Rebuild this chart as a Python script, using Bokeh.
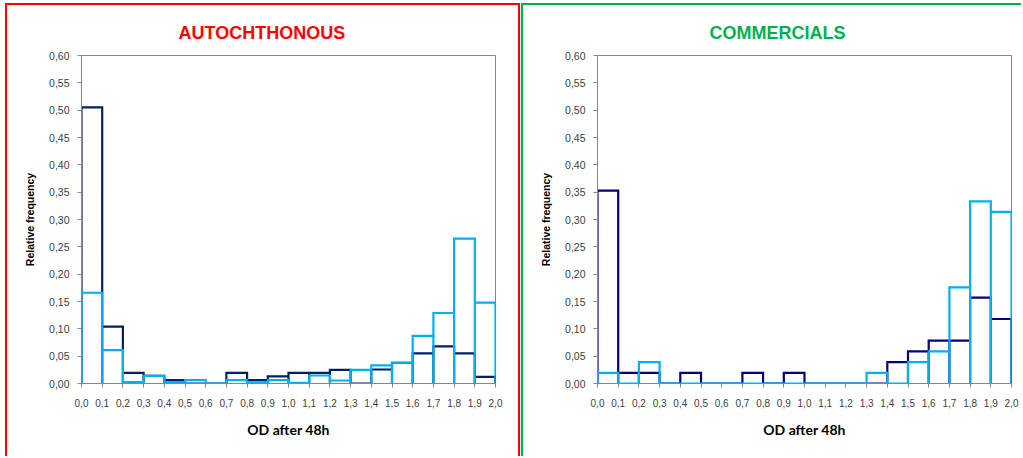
from bokeh.plotting import figure
from bokeh.layouts import row
from bokeh.models import Range1d, FixedTicker, Title
from bokeh.embed import file_html
from bokeh.resources import INLINE

# ---- data ----
od_edges = [0.0, 0.1, 0.2, 0.3, 0.4, 0.5, 0.6, 0.7, 0.8, 0.9, 1.0,
            1.1, 1.2, 1.3, 1.4, 1.5, 1.6, 1.7, 1.8, 1.9, 2.0]
y_ticks = [0.0, 0.05, 0.10, 0.15, 0.20, 0.25, 0.30, 0.35, 0.40, 0.45, 0.50, 0.55, 0.60]

auto_dark = [0.505, 0.104, 0.0195, 0.014, 0.006, 0.0, 0.0, 0.0195, 0.006, 0.013,
             0.0195, 0.0195, 0.025, 0.0, 0.0256, 0.038, 0.055, 0.068, 0.055, 0.012]
auto_light = [0.166, 0.061, 0.0024, 0.014, 0.0024, 0.006, 0.0, 0.006, 0.002, 0.006,
              0.001, 0.0146, 0.0055, 0.025, 0.033, 0.038, 0.087, 0.129, 0.265, 0.148]

comm_dark = [0.353, 0.0196, 0.0196, 0.0, 0.0196, 0.0, 0.0, 0.0196, 0.0, 0.0196,
             0.0, 0.0, 0.0, 0.0, 0.039, 0.0588, 0.0784, 0.0784, 0.157, 0.118]
comm_light = [0.0196, 0.0, 0.039, 0.0, 0.0, 0.0, 0.0, 0.0, 0.0, 0.0,
              0.0, 0.0, 0.0, 0.0196, 0.0, 0.039, 0.0588, 0.176, 0.333, 0.314]

panel_titles = ["AUTOCHTHONOUS", "COMMERCIALS"]
x_label = "OD after 48h"
y_label = "Relative frequency"


def step_path(edges, vals):
    xs, ys = [], []
    for i, v in enumerate(vals):
        xs += [edges[i], edges[i], edges[i + 1], edges[i + 1]]
        ys += [0.0, v, v, 0.0]
    return xs, ys


def fmt_comma(v, nd):
    return f"{v:.{nd}f}".replace(".", ",")


def make_panel(title, dark, light, dark_color, title_color, border_css, width, right_border,
               title_offset, margin):
    p = figure(width=width, height=453, output_backend="svg", toolbar_location=None,
               x_range=Range1d(0, 2.0), y_range=Range1d(0, 0.6),
               min_border_left=74, min_border_right=right_border,
               min_border_top=50, min_border_bottom=75,
               background_fill_color="white", border_fill_color="white",
               outline_line_color="#868686", outline_line_width=1,
               margin=margin, styles=border_css)
    p.title = Title(text=title, align="left", offset=title_offset,
                    text_font="Liberation Sans", text_font_style="bold",
                    text_font_size="18px", text_color=title_color, standoff=26)
    p.grid.visible = False

    xa, ya = p.xaxis[0], p.yaxis[0]
    xa.ticker = FixedTicker(ticks=od_edges)
    xa.major_label_overrides = {e: fmt_comma(e, 1) for e in od_edges}
    ya.ticker = FixedTicker(ticks=y_ticks)
    ya.major_label_overrides = {t: fmt_comma(t, 2) for t in y_ticks}
    for ax in (xa, ya):
        ax.axis_line_color = "#868686"
        ax.major_tick_line_color = "#868686"
        ax.major_tick_in = 0
        ax.major_tick_out = 4
        ax.minor_tick_line_color = None
        ax.major_label_text_font = "Liberation Sans"
        ax.major_label_text_color = "#404040"
    xa.major_label_text_font_size = "10px"
    ya.major_label_text_font_size = "10.5px"
    xa.major_label_standoff = 11
    ya.major_label_standoff = 8

    xa.axis_label = x_label
    xa.axis_label_text_font = "Lato"
    xa.axis_label_text_font_style = "bold"
    xa.axis_label_text_font_size = "14px"
    xa.axis_label_text_color = "#000000"
    xa.axis_label_standoff = 11
    ya.axis_label = y_label
    ya.axis_label_text_font = "Liberation Sans"
    ya.axis_label_text_font_style = "bold"
    ya.axis_label_text_font_size = "10.5px"
    ya.axis_label_text_color = "#000000"
    ya.axis_label_standoff = 10

    dx, dy = step_path(od_edges, dark)
    lx, ly = step_path(od_edges, light)
    p.line(dx, dy, line_color=dark_color, line_width=2.2, line_join="miter")
    p.line(lx, ly, line_color="#00B0F0", line_width=2.2, line_join="miter")
    return p


p1 = make_panel(panel_titles[0], auto_dark, auto_light, "#002060", "#FF0000",
                {"border-left": "2px solid #FF0000", "border-right": "2px solid #FF0000",
                 "border-top": "2px solid #FF0000"}, 515, 27, 97, (3, 0, 0, 5))
p2 = make_panel(panel_titles[1], comm_dark, comm_light, "#000080", "#00B050",
                {"border-left": "2px solid #00B050", "border-top": "2px solid #00B050"},
                500, 12, 112, (3, 0, 0, 1))

layout = row(p1, p2)
open("out.html", "w").write(file_html(layout, INLINE))
